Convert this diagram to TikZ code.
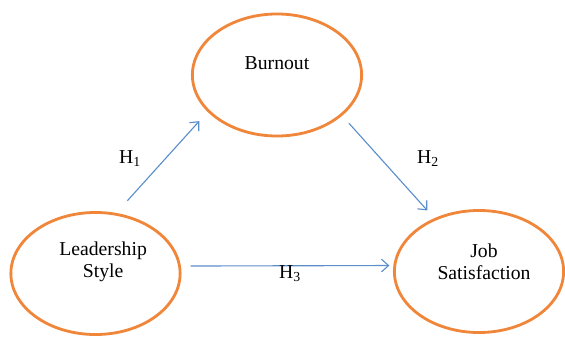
\documentclass[tikz,border=0pt]{standalone}
\usepackage{fontspec}
\setmainfont{Liberation Serif}
\usetikzlibrary{shapes.geometric,arrows.meta}
\definecolor{varorange}{HTML}{F0863A}
\definecolor{hypblue}{HTML}{5A8FCC}
\begin{document}
\begin{tikzpicture}[x=0.025cm,y=-0.025cm,
var/.style={ellipse,draw=varorange,line width=2pt,minimum width=4.23cm,minimum height=3.05cm,inner sep=0pt},
hyp/.style={hypblue,line width=0.8pt,-{Straight Barb[length=5pt,width=9pt]}},
txt/.style={font=\fontsize{14}{16}\selectfont,align=center}]
\useasboundingbox (0,0) rectangle (565,336);
\node[var,label={[txt,yshift=0.3cm]center:Burnout}] (burn) at (277,75) {};
\node[var,label={[txt,xshift=0.19cm,yshift=0.29cm]center:Leadership\\Style}] (lead) at (95.5,273.5) {};
\node[var,label={[txt,xshift=0.125cm,yshift=0.24cm]center:Job\\Satisfaction}] (job) at (479,271.5) {};
\draw[hyp,shorten <=0.41cm,shorten >=0.31cm] (lead.71) -- (burn.208);
\draw[hyp,shorten <=0.25cm,shorten >=0.26cm] (burn.328) -- (job.130);
\draw[hyp,shorten <=0.24cm,shorten >=0.1cm] (lead.5) -- (job.176);
\node[txt] (h1) at (130,159) {H\textsubscript{1}};
\node[txt] (h2) at (428,159) {H\textsubscript{2}};
\node[txt] (h3) at (290,274) {H\textsubscript{3}};
\end{tikzpicture}
\end{document}
